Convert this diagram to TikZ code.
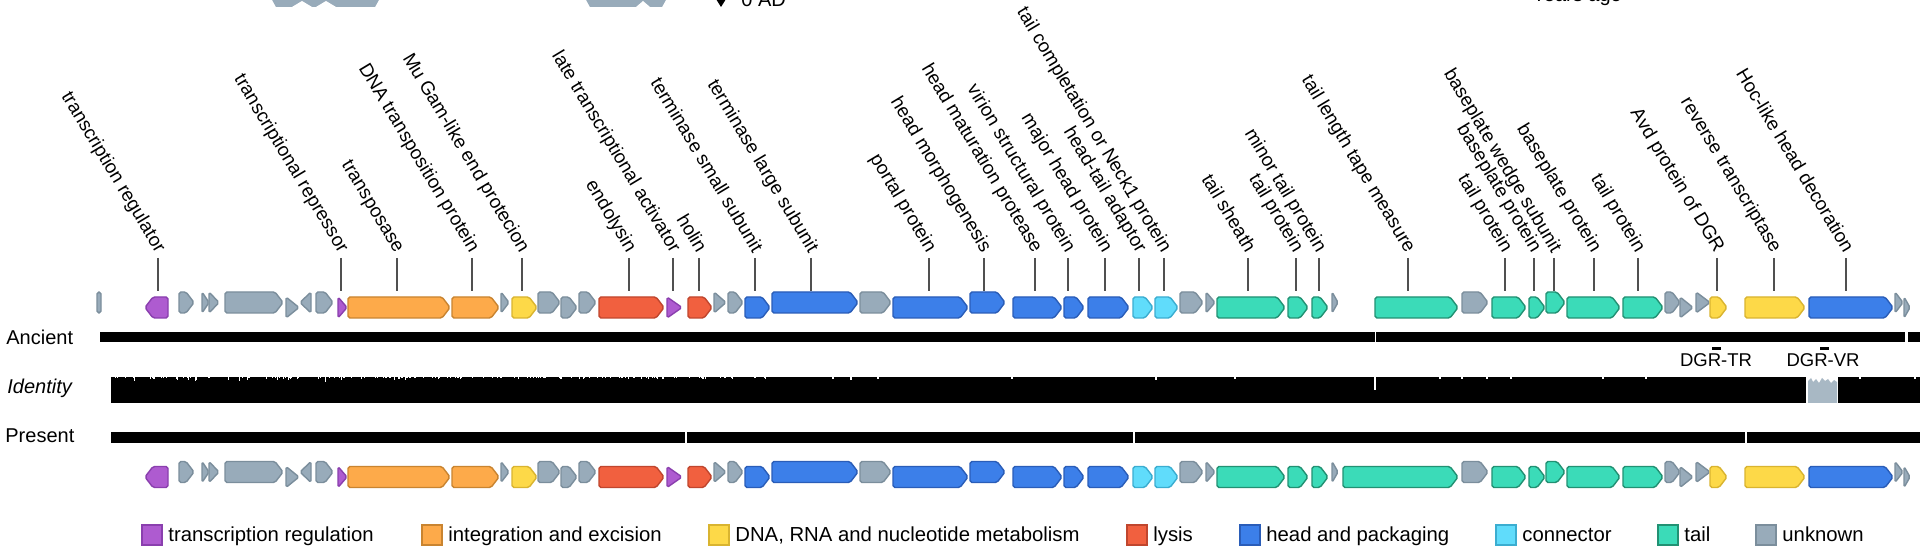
\documentclass[tikz,border=0pt]{standalone}
\usepackage{fontspec}
\setmainfont{Liberation Sans}
\definecolor{cPur}{HTML}{AE5BD0}\definecolor{cPurD}{HTML}{8A3FAE}
\definecolor{cOra}{HTML}{FDAA4A}\definecolor{cOraD}{HTML}{C98430}
\definecolor{cYel}{HTML}{FDD948}\definecolor{cYelD}{HTML}{D9B430}
\definecolor{cRed}{HTML}{F1603F}\definecolor{cRedD}{HTML}{C0462E}
\definecolor{cBlu}{HTML}{3C7FE9}\definecolor{cBluD}{HTML}{2A5DB8}
\definecolor{cCon}{HTML}{60DCFB}\definecolor{cConD}{HTML}{3BADD0}
\definecolor{cTea}{HTML}{3BDBB8}\definecolor{cTeaD}{HTML}{229173}
\definecolor{cGry}{HTML}{98ABBA}\definecolor{cGryD}{HTML}{7B8E9C}
\definecolor{tickc}{HTML}{505050}
\tikzset{
  gline/.style={line width=0.7pt, rounded corners=0.9pt, line join=round},
  gpur/.style={fill=cPur, draw=cPurD},
  gora/.style={fill=cOra, draw=cOraD},
  gyel/.style={fill=cYel, draw=cYelD},
  gred/.style={fill=cRed, draw=cRedD},
  gblu/.style={fill=cBlu, draw=cBluD},
  gcon/.style={fill=cCon, draw=cConD},
  gtea/.style={fill=cTea, draw=cTeaD},
  ggry/.style={fill=cGry, draw=cGryD},
  ticker/.style={draw=tickc, line width=0.6pt},
  lbl/.style={font=\fontsize{9.5pt}{11pt}\selectfont, inner sep=0pt, anchor=base east, rotate=-59},
  side/.style={font=\fontsize{10pt}{12pt}\selectfont, inner sep=0pt, anchor=base west},
  legtxt/.style={font=\fontsize{10.15pt}{12pt}\selectfont, inner sep=0pt, anchor=base west},
  dgr/.style={font=\fontsize{9.25pt}{11pt}\selectfont, inner sep=0pt, anchor=base},
  legbox/.style={line width=0.7pt},
}
% forward gene, reverse gene, forward triangle, reverse triangle
\newcommand\GF[4]{\path[gline,#4] (#1,#3) -- ({#2-8},#3) -- (#2,{#3+10.5}) -- ({#2-8},{#3+21}) -- (#1,{#3+21}) -- cycle;}
\newcommand\GR[4]{\path[gline,#4] (#2,#3) -- ({#1+8},#3) -- (#1,{#3+10.5}) -- ({#1+8},{#3+21}) -- (#2,{#3+21}) -- cycle;}
\newcommand\TF[4]{\path[gline,#4] (#1,#3) -- (#2,{#3+10.5}) -- (#1,{#3+21}) -- cycle;}
\newcommand\TR[4]{\path[gline,#4] (#2,#3) -- (#1,{#3+10.5}) -- (#2,{#3+21}) -- cycle;}
\newcommand\generow[1]{%
\GR{145}{168}{\gL}{gpur}
\GF{179}{194}{\gH}{ggry}
\TF{202}{209}{\gH}{ggry}
\TF{209}{219}{\gH}{ggry}
\GF{225}{283}{\gH}{ggry}
\TF{286}{299}{\gL}{ggry}
\TR{300}{311}{\gH}{ggry}
\GF{316}{333}{\gH}{ggry}
\TF{338}{347}{\gL}{gpur}
\GF{348}{450}{\gL}{gora}
\GF{452}{499}{\gL}{gora}
\TF{501}{509}{\gH}{ggry}
\GF{512}{537}{\gL}{gyel}
\GF{538}{560}{\gH}{ggry}
\GF{561}{577}{\gL}{ggry}
\GF{579}{596}{\gH}{ggry}
\GF{599}{664}{\gL}{gred}
\TF{667}{682}{\gL}{gpur}
\GF{688}{712}{\gL}{gred}
\TF{714}{726}{\gH}{ggry}
\GF{728}{743}{\gH}{ggry}
\GF{745}{770}{\gL}{gblu}
\GF{772}{858}{\gH}{gblu}
\GF{860}{891}{\gH}{ggry}
\GF{893}{968}{\gL}{gblu}
\GF{970}{1005}{\gH}{gblu}
\GF{1013}{1062}{\gL}{gblu}
\GF{1064}{1084}{\gL}{gblu}
\GF{1088}{1129}{\gL}{gblu}
\GF{1133}{1153}{\gL}{gcon}
\GF{1155}{1178}{\gL}{gcon}
\GF{1180}{1203}{\gH}{ggry}
\TF{1206}{1215}{\gH}{ggry}
\GF{1217}{1285}{\gL}{gtea}
\GF{1288}{1308}{\gL}{gtea}
\GF{1312}{1328}{\gL}{gtea}
\TF{1332}{1338}{\gH}{ggry}
\GF{#1}{1458}{\gL}{gtea}
\GF{1462}{1488}{\gH}{ggry}
\GF{1492}{1526}{\gL}{gtea}
\GF{1529}{1545}{\gL}{gtea}
\GF{1546}{1565}{\gH}{gtea}
\GF{1567}{1620}{\gL}{gtea}
\GF{1623}{1663}{\gL}{gtea}
\GF{1665}{1680}{\gH}{ggry}
\TF{1680}{1693}{\gL}{ggry}
\TF{1696}{1710}{\gH}{ggry}
\GF{1710}{1727}{\gL}{gyel}
\GF{1745}{1805}{\gL}{gyel}
\GF{1809}{1893}{\gL}{gblu}
\TF{1895}{1903}{\gH}{ggry}
\TF{1904}{1910}{\gL}{ggry}
}
\begin{document}
\begin{tikzpicture}[x=0.5pt,y=-0.5pt]
\useasboundingbox (0,0) rectangle (1920,560);
\clip (0,0) rectangle (1920,560);
\fill[white] (0,0) rectangle (1920,560);

% clipped remnants of the panel above
\fill[cGry] (271,-2) -- (380,-2) -- (375,7) -- (276,7) -- cycle;
\fill[white] (292,7) -- (302,1) -- (312,7) -- cycle;
\fill[white] (316,7) -- (326,1) -- (336,7) -- cycle;
\fill[cGry] (585,-2) -- (667,-2) -- (662,7) -- (590,7) -- cycle;
\fill[white] (636,7) -- (643,1) -- (650,7) -- cycle;
\fill[black] (716,-1) -- (726,-1) -- (721,7) -- cycle;
\node[side] (ad) at (741,7) {0 AD};
\node[side] (ya) at (1532,2) {Years ago};

% labels with ticks
\foreach \x/\t [count=\i] in {158/transcription regulator, 341/transcriptional repressor, 397/transposase,
  472/DNA transposition protein, 522/Mu Gam-like end protecion, 629/endolysin,
  673/late transcriptional activator, 699/holin, 755/terminase small subunit,
  811/terminase large subunit, 929/portal protein, 984/head morphogenesis,
  1035/head maturation protease, 1068/virion structural protein, 1105/major head protein,
  1139/head-tail adaptor, 1164/tail completation or Neck1 protein, 1248/tail sheath,
  1296/tail protein, 1319/minor tail protein, 1408/tail length tape measure,
  1505/tail protein, 1534/baseplate protein, 1554/baseplate wedge subunit,
  1594/baseplate protein, 1638/tail protein, 1717/Avd protein of DGR,
  1774/reverse transcriptase, 1846/Hoc-like head decoration}{
  \node[lbl] (lab\i) at ({\x-2},254) {\t};
  \coordinate (tt\i) at (\x,258);
  \coordinate (tb\i) at (\x,291);
  \draw[ticker] (tt\i) -- (tb\i);
}

% ancient genes
\path[gline,ggry] (97,292) rectangle (101,313);
\def\gH{292}\def\gL{297}
\generow{1375}

% present genes
\def\gH{461.5}\def\gL{466.5}
\generow{1343}

% Ancient bar
\node[side] (anc) at (6,345) {Ancient};
\fill[black] (100,332) rectangle (1920,342);
\draw[white, line width=0.7pt] (1375.5,331) -- (1375.5,343);
\fill[white] (1905,331) rectangle (1908,343);

% Identity
\node[side, font=\fontsize{10pt}{12pt}\selectfont\itshape] (idt) at (7,394) {Identity};
\fill[black] (111,377) rectangle (1920,403);
\pgfmathsetseed{7}
\foreach \k in {1,...,150}{
  \pgfmathsetmacro\sx{113+rnd*660}
  \pgfmathsetmacro\sd{0.8+5*rnd*rnd*rnd}
  \draw[white, line width=0.55pt] (\sx,376) -- (\sx,{377+\sd});
}
\foreach \sx/\sd in {833/2,851/3,878/2,1012/2,1156/3,1235/2,1440/2,1462/2,1487/2,1511/2,1603/2,1646/2,1860/2,1915/2}{
  \draw[white, line width=0.55pt] (\sx,376) -- (\sx,{377+\sd});
}
\draw[white, line width=0.8pt] (1375,376) -- (1375,390);
\fill[white] (1806,376) rectangle (1838,404);
\fill[cGry!85] (1808,403) -- (1808,381) -- (1811,378) -- (1813,382) -- (1816,379) -- (1819,383) -- (1822,378)
  -- (1825,381) -- (1828,379) -- (1831,383) -- (1834,380) -- (1837,382) -- (1837,403) -- cycle;

% DGR marks
\fill[black] (1712,347) rectangle (1721,350);
\fill[black] (1820,347) rectangle (1829,350);
\node[dgr] (dtr) at (1716,367) {DGR-TR};
\node[dgr] (dvr) at (1823,367) {DGR-VR};

% Present bar
\node[side] (pre) at (5,443) {Present};
\fill[black] (111,432) rectangle (1920,443);
\foreach \gx in {686,1134,1746}{\draw[white, line width=0.6pt] (\gx,431) -- (\gx,444);}

% legend
\foreach \x/\c/\t in {142/Pur/transcription regulation, 422/Ora/integration and excision,
  709/Yel/{DNA, RNA and nucleotide metabolism}, 1127/Red/lysis, 1240/Blu/head and packaging,
  1496/Con/connector, 1658/Tea/tail, 1756/Gry/unknown}{
  \path[legbox, fill=c\c, draw=c\c D] (\x,525) rectangle ({\x+20},545);
  \node[legtxt] (leg\x) at ({\x+26},541) {\t};
}
\end{tikzpicture}
\end{document}
